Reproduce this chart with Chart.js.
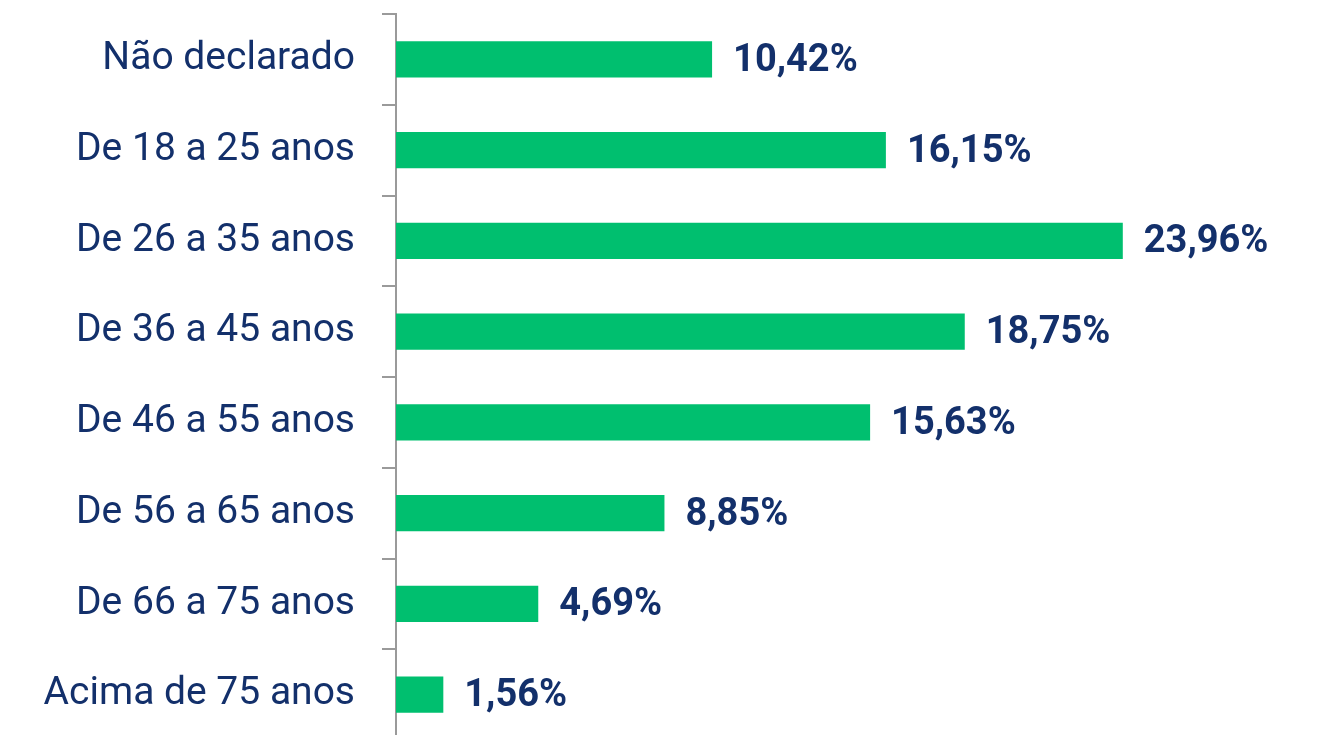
<!DOCTYPE html>
<html>
<head>
<meta charset="utf-8">
<script src="https://cdn.jsdelivr.net/npm/chart.js@4"></script>
<style>
  html, body { margin: 0; padding: 0; background: #fff; overflow: hidden; }
  #wrap { width: 1323px; height: 740px; position: relative; }
</style>
</head>
<body>
<div id="wrap"><canvas id="chartCanvas"></canvas></div>
<script>
// --- data ---
const ageGroups = [
  "Não declarado",
  "De 18 a 25 anos",
  "De 26 a 35 anos",
  "De 36 a 45 anos",
  "De 46 a 55 anos",
  "De 56 a 65 anos",
  "De 66 a 75 anos",
  "Acima de 75 anos"
];
const shares = [10.42, 16.15, 23.96, 18.75, 15.63, 8.85, 4.69, 1.56];

const navy = "#13306b";
const green = "#00bf6f";
const fontFamily = "Roboto, sans-serif";

// draws "10,42%" style labels at the end of each bar
const valueLabels = {
  id: "valueLabels",
  afterDatasetsDraw(chart) {
    const ctx = chart.ctx;
    const meta = chart.getDatasetMeta(0);
    ctx.save();
    ctx.fillStyle = navy;
    ctx.font = "bold 38px " + fontFamily;
    ctx.textAlign = "left";
    ctx.textBaseline = "middle";
    meta.data.forEach((bar, i) => {
      const txt = shares[i].toFixed(2).replace(".", ",") + "%";
      ctx.fillText(txt, bar.x + 21, bar.y + 2);
    });
    ctx.restore();
  }
};

const canvas = document.getElementById("chartCanvas");
new Chart(canvas, {
  type: "bar",
  data: {
    labels: ageGroups,
    datasets: [{
      data: shares,
      backgroundColor: green,
      borderWidth: 0,
      barPercentage: 0.4,
      categoryPercentage: 1
    }]
  },
  options: {
    indexAxis: "y",
    responsive: true,
    maintainAspectRatio: false,
    animation: false,
    layout: { padding: { top: 14, right: 0, bottom: 0, left: 0 } },
    plugins: {
      legend: { display: false },
      tooltip: { enabled: false }
    },
    scales: {
      x: {
        display: false,
        min: 0,
        max: 30.56
      },
      y: {
        afterFit(scale) {
          scale.width = 396;
          scale.paddingTop = 0;
          scale.paddingBottom = 0;
        },
        border: { display: true, color: "#9a9a9a", width: 2 },
        grid: {
          offset: true,
          drawOnChartArea: false,
          drawTicks: true,
          tickLength: 14,
          color: "#9a9a9a",
          lineWidth: 2
        },
        ticks: {
          color: navy,
          padding: 27,
          font: { family: fontFamily, size: 39 }
        }
      }
    }
  },
  plugins: [valueLabels]
});
</script>
</body>
</html>
